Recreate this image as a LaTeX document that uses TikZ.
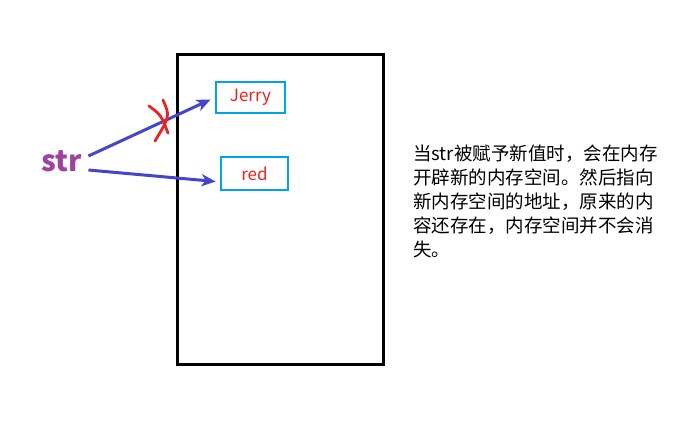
\documentclass[tikz,border=0pt]{standalone}
\usepackage{fontspec}
\newfontfamily\cjk{Noto Sans CJK SC}
\usetikzlibrary{arrows.meta}
\definecolor{ptrblue}{HTML}{4444CC}
\definecolor{varpurple}{HTML}{A040A0}
\definecolor{boxcyan}{HTML}{00A2E8}
\definecolor{valred}{HTML}{EE2020}
\tikzset{
  valbox/.style={
    rectangle,
    draw=boxcyan,
    line width=2.8pt,
    text=valred,
    font=\cjk\fontsize{17}{20}\selectfont
  }
}
\tikzset{
  membox/.style={
    rectangle,
    draw=black,
    line width=3pt,
    minimum width=206pt,
    minimum height=310pt
  }
}
\tikzstyle{arrow} = [-{Stealth[length=14pt, width=12pt, inset=4pt]}, line width=3pt, draw=ptrblue]
\def\note{\cjk\fontsize{18.5}{24}\selectfont}

\begin{document}
\begin{tikzpicture}[x=1pt, y=-1pt]
    \useasboundingbox (0,0) rectangle (690,432);
    \node[membox] (mem) at (280, 209) {};
    \node[valbox, minimum width=69pt, minimum height=31pt] (jerry) at (250.5, 97.5) {Jerry\hspace{6pt}};
    \node[valbox, minimum width=67pt, minimum height=33pt] (red) at (254.5, 173.5) {red\hspace{5pt}};
    \node[text=varpurple, inner sep=0pt, font=\cjk\bfseries\fontsize{29}{30}\selectfont] (str) at (62, 161) {str};
    \draw[arrow] ([xshift=6pt, yshift=5pt]str.east) to ([xshift=-4pt, yshift=-2pt]jerry.west);
    \draw[arrow] ([xshift=6pt, yshift=-9pt]str.east) to ([xshift=-4pt, yshift=-8pt]red.west);
    % the old link is crossed out
    \draw[valred, line width=2.8pt, line cap=round] (163, 100) .. controls (170, 116) .. (155, 141);
    \draw[valred, line width=2.8pt, line cap=round] (149, 106) .. controls (161, 115) .. (168, 133);
    \node[anchor=north west, align=left, inner sep=0pt, font=\note] (note) at (413, 145)
      {当str被赋予新值时，会在内存\\开辟新的内存空间。然后指向\\新内存空间的地址，原来的内\\容还存在，内存空间并不会消\\失。};
\end{tikzpicture}
\end{document}
